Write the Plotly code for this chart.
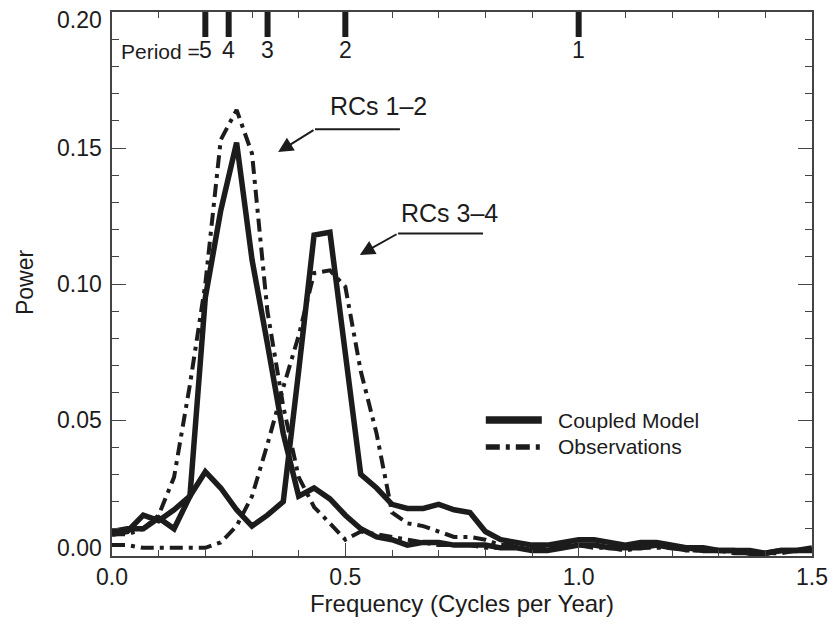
import plotly.graph_objects as go

freq = [0.000, 0.033, 0.067, 0.100, 0.133, 0.167, 0.200, 0.233, 0.267, 0.300,
        0.333, 0.367, 0.400, 0.433, 0.467, 0.500, 0.533, 0.567, 0.600, 0.633,
        0.667, 0.700, 0.733, 0.767, 0.800, 0.833, 0.867, 0.900, 0.933, 0.967,
        1.000, 1.033, 1.067, 1.100, 1.133, 1.167, 1.200, 1.233, 1.267, 1.300,
        1.333, 1.367, 1.400, 1.433, 1.467, 1.500]

model_rc12 = [0.009, 0.010, 0.010, 0.014, 0.010, 0.022, 0.095, 0.127, 0.152, 0.109,
              0.078, 0.045, 0.022, 0.025, 0.021, 0.015, 0.010, 0.007, 0.006, 0.004,
              0.005, 0.005, 0.004, 0.004, 0.004, 0.003, 0.003, 0.002, 0.002, 0.003,
              0.004, 0.004, 0.003, 0.003, 0.003, 0.004, 0.003, 0.003, 0.002, 0.002,
              0.002, 0.001, 0.001, 0.002, 0.002, 0.002]

model_rc34 = [0.008, 0.009, 0.015, 0.013, 0.017, 0.022, 0.031, 0.025, 0.017, 0.011,
              0.015, 0.020, 0.068, 0.118, 0.119, 0.075, 0.030, 0.025, 0.019, 0.0175,
              0.0175, 0.019, 0.017, 0.016, 0.009, 0.006, 0.005, 0.004, 0.004, 0.005,
              0.006, 0.006, 0.005, 0.004, 0.005, 0.005, 0.004, 0.003, 0.003, 0.002,
              0.002, 0.002, 0.001, 0.002, 0.002, 0.003]

obs_rc12 = [0.008, 0.008, 0.010, 0.015, 0.029, 0.063, 0.100, 0.153, 0.164, 0.148,
            0.090, 0.055, 0.029, 0.018, 0.012, 0.006, 0.009, 0.008, 0.007, 0.006,
            0.005, 0.004, 0.004, 0.004, 0.003, 0.003, 0.003, 0.002, 0.003, 0.003,
            0.004, 0.003, 0.003, 0.002, 0.003, 0.003, 0.003, 0.002, 0.002, 0.002,
            0.002, 0.001, 0.001, 0.001, 0.002, 0.002]

obs_rc34 = [0.004, 0.004, 0.003, 0.003, 0.003, 0.003, 0.003, 0.005, 0.011, 0.022,
            0.041, 0.062, 0.081, 0.104, 0.105, 0.099, 0.068, 0.045, 0.016, 0.012,
            0.011, 0.009, 0.007, 0.007, 0.006, 0.004, 0.004, 0.003, 0.003, 0.004,
            0.004, 0.004, 0.003, 0.003, 0.003, 0.004, 0.003, 0.002, 0.002, 0.002,
            0.001, 0.001, 0.001, 0.002, 0.002, 0.002]

periods = [5, 4, 3, 2, 1]
period_labels = ["5", "4", "3", "2", "1"]

legend_names = ["Coupled Model", "Observations"]
x_tickvals = [0.0, 0.5, 1.0, 1.5]
x_ticktext = ["0.0", "0.5", "1.0", "1.5"]
y_tickvals = [0.0, 0.05, 0.10, 0.15, 0.20]
y_ticktext = ["0.00", "0.05", "0.10", "0.15", "0.20"]

INK = "#1c1c1c"
FONT = "Liberation Sans, Arial, Helvetica, sans-serif"
DASHDOT = "13px,6px,4px,6px"

fig = go.Figure()
for ys in (model_rc12, model_rc34):
    fig.add_trace(go.Scatter(x=freq, y=ys, mode="lines", showlegend=False,
                             line=dict(color=INK, width=5.5)))
for ys in (obs_rc12, obs_rc34):
    fig.add_trace(go.Scatter(x=freq, y=ys, mode="lines", showlegend=False,
                             line=dict(color=INK, width=4, dash=DASHDOT)))

shapes = []
annotations = []

# y tick labels: the end labels are nudged inside the frame, as in the original
y_shift = {0.0: 8, 0.20: -8}
for v, t in zip(y_tickvals, y_ticktext):
    annotations.append(dict(x=0, y=v, xref="paper", yref="y", text=t, showarrow=False,
                            xanchor="right", yanchor="middle", xshift=-8,
                            yshift=y_shift.get(v, 0),
                            font=dict(size=23, color=INK, family=FONT)))
# y axis title
annotations.append(dict(x=0, y=0.1007, xref="paper", yref="y", text="Power", showarrow=False,
                        textangle=-90, xanchor="center", yanchor="middle", xshift=-87,
                        font=dict(size=23, color=INK, family=FONT)))

# period markers
for p, lab in zip(periods, period_labels):
    f = 1.0 / p
    shapes.append(dict(type="line", xref="x", yref="y", x0=f, x1=f, y0=0.1908, y1=0.2,
                       line=dict(color=INK, width=6)))
    annotations.append(dict(x=f, y=0.1862, xref="x", yref="y", text=lab, showarrow=False,
                            font=dict(size=23, color=INK, family=FONT),
                            xanchor="center", yanchor="middle"))
annotations.append(dict(x=0.193, y=0.1855, xref="x", yref="y", text="Period =", showarrow=False,
                        font=dict(size=21, color=INK, family=FONT),
                        xanchor="right", yanchor="middle"))

# RC labels with arrows
annotations.append(dict(x=0.570, y=0.1655, xref="x", yref="y", text="RCs 1\u20132", showarrow=False,
                        font=dict(size=25, color=INK, family=FONT), xanchor="center", yanchor="middle"))
shapes.append(dict(type="line", xref="x", yref="y", x0=0.435, x1=0.617, y0=0.1569, y1=0.1569,
                   line=dict(color=INK, width=2)))
annotations.append(dict(x=0.356, y=0.1485, ax=0.435, ay=0.1569, xref="x", yref="y",
                        axref="x", ayref="y", text="", showarrow=True, arrowhead=2,
                        arrowsize=1.5, arrowwidth=2, arrowcolor=INK))

annotations.append(dict(x=0.724, y=0.1260, xref="x", yref="y", text="RCs 3\u20134", showarrow=False,
                        font=dict(size=25, color=INK, family=FONT), xanchor="center", yanchor="middle"))
shapes.append(dict(type="line", xref="x", yref="y", x0=0.613, x1=0.795, y0=0.1186, y1=0.1186,
                   line=dict(color=INK, width=2)))
annotations.append(dict(x=0.531, y=0.1107, ax=0.613, ay=0.1186, xref="x", yref="y",
                        axref="x", ayref="y", text="", showarrow=True, arrowhead=2,
                        arrowsize=1.5, arrowwidth=2, arrowcolor=INK))

# manual legend
leg_y = [0.0500, 0.0401]
leg_style = [dict(width=7.5), dict(width=5.5, dash="14px,6px,4px,6px")]
for yy, st, name in zip(leg_y, leg_style, legend_names):
    shapes.append(dict(type="line", xref="x", yref="y", x0=0.801, x1=0.921, y0=yy, y1=yy,
                       line=dict(color=INK, **st)))
    annotations.append(dict(x=0.951, y=yy, xref="x", yref="y", text=name, showarrow=False,
                            font=dict(size=21, color=INK, family=FONT),
                            xanchor="left", yanchor="middle"))

axis_common = dict(showgrid=False, zeroline=False, showline=True, linecolor="#444",
                   linewidth=1.5, mirror="allticks", ticks="inside", tickcolor="#444",
                   tickwidth=1.2, automargin=False, ticklabeloverflow="allow",
                   tickfont=dict(size=23, color=INK, family=FONT))

fig.update_layout(
    width=837, height=628,
    margin=dict(l=112, r=25, t=12, b=72),
    paper_bgcolor="white", plot_bgcolor="white",
    font=dict(family=FONT, color=INK),
    shapes=shapes, annotations=annotations,
    xaxis=dict(range=[0, 1.5], tickvals=x_tickvals, ticktext=x_ticktext, ticklen=13,
               minor=dict(dtick=0.1, tick0=0, ticklen=6, ticks="inside", tickcolor="#444"),
               title=dict(text="Frequency (Cycles per Year)", font=dict(size=24, color=INK, family=FONT),
                          standoff=2),
               **axis_common),
    yaxis=dict(range=[0, 0.2], tickvals=y_tickvals, showticklabels=False, ticklen=14,
               minor=dict(dtick=0.01, tick0=0, ticklen=7, ticks="inside", tickcolor="#444"),
               **axis_common),
)

fig.write_html("out.html")
